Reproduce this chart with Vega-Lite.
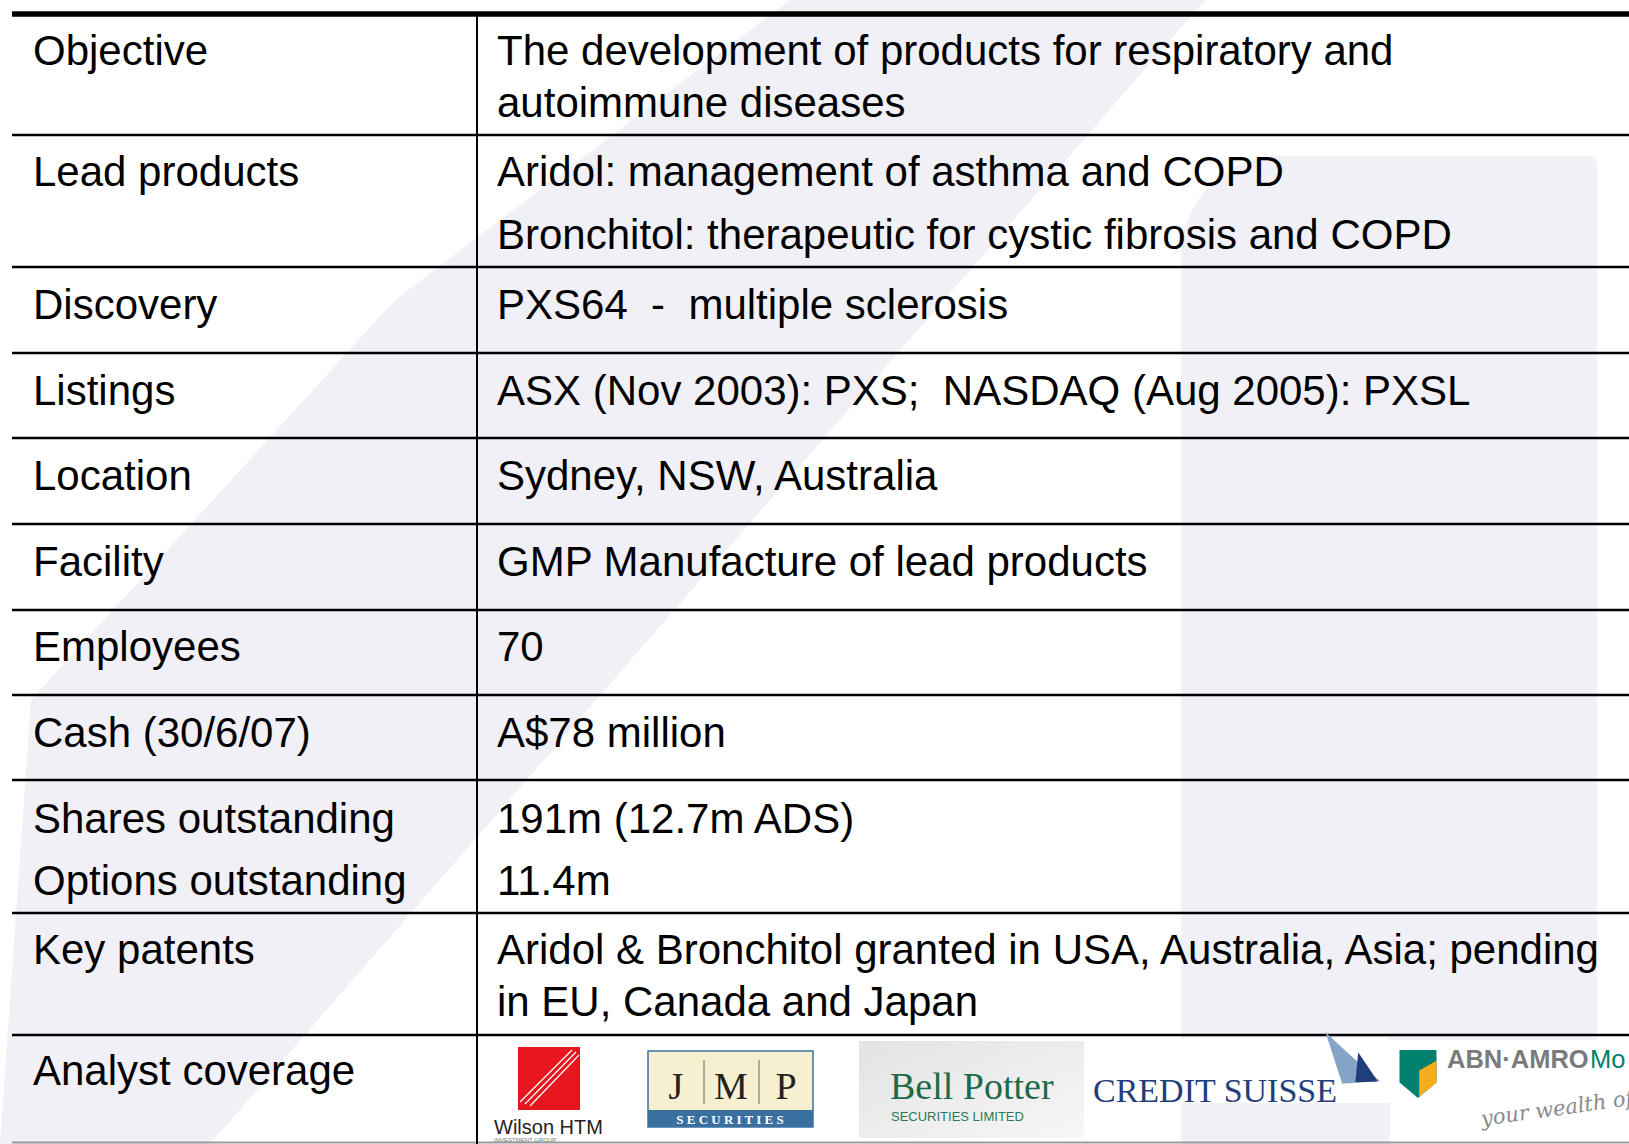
{
  "$schema": "https://vega.github.io/schema/vega-lite/v6.json",
  "width": 1629,
  "height": 1144,
  "autosize": {"type": "none"},
  "padding": 0,
  "background": "#ffffff",
  "config": {"view": {"stroke": null}, "axis": {"disable": true}, "legend": {"disable": true}},
  "datasets": {
    "band": [
      {"y": 0, "xl": 790, "xr": 1205},
      {"y": 300, "xl": 395, "xr": 944},
      {"y": 700, "xl": 31, "xr": 596},
      {"y": 1144, "xl": 0, "xr": 210}
    ],
    "cells": [
      {"col": "label", "text": "Objective", "y": 65},
      {"col": "value", "text": "The development of products for respiratory and", "y": 65},
      {"col": "value", "text": "autoimmune diseases", "y": 117},
      {"col": "label", "text": "Lead products", "y": 186},
      {"col": "value", "text": "Aridol: management of asthma and COPD", "y": 186},
      {"col": "value", "text": "Bronchitol: therapeutic for cystic fibrosis and COPD", "y": 249},
      {"col": "label", "text": "Discovery", "y": 319},
      {"col": "value", "text": "PXS64 \u00a0-\u00a0 multiple sclerosis", "y": 319},
      {"col": "label", "text": "Listings", "y": 405},
      {"col": "value", "text": "ASX (Nov 2003): PXS;\u00a0 NASDAQ (Aug 2005): PXSL", "y": 405},
      {"col": "label", "text": "Location", "y": 490},
      {"col": "value", "text": "Sydney, NSW, Australia", "y": 490},
      {"col": "label", "text": "Facility", "y": 576},
      {"col": "value", "text": "GMP Manufacture of lead products", "y": 576},
      {"col": "label", "text": "Employees", "y": 661},
      {"col": "value", "text": "70", "y": 661},
      {"col": "label", "text": "Cash (30/6/07)", "y": 747},
      {"col": "value", "text": "A$78 million", "y": 747},
      {"col": "label", "text": "Shares outstanding", "y": 833},
      {"col": "value", "text": "191m (12.7m ADS)", "y": 833},
      {"col": "label", "text": "Options outstanding", "y": 895},
      {"col": "value", "text": "11.4m", "y": 895},
      {"col": "label", "text": "Key patents", "y": 964},
      {"col": "value", "text": "Aridol & Bronchitol granted in USA, Australia, Asia; pending", "y": 964},
      {"col": "value", "text": "in EU, Canada and Japan", "y": 1016},
      {"col": "label", "text": "Analyst coverage", "y": 1085}
    ],
    "hlines": [
      {"y": 135}, {"y": 267}, {"y": 353}, {"y": 438}, {"y": 524},
      {"y": 610}, {"y": 695}, {"y": 780}, {"y": 913}, {"y": 1035}
    ],
    "boxes": [
      {"part": "white", "x": 1181, "x2": 1390, "y": 1038, "y2": 1103},
      {"part": "white", "x": 1390, "x2": 1629, "y": 1040, "y2": 1144},
      {"part": "red", "x": 518, "x2": 580, "y": 1047, "y2": 1110},
      {"part": "beige", "x": 648, "x2": 813, "y": 1051, "y2": 1111},
      {"part": "blue", "x": 648, "x2": 813, "y": 1110, "y2": 1127}
    ],
    "wlines": [
      {"x": 520, "y": 1102, "x2": 572, "y2": 1050},
      {"x": 525, "y": 1104, "x2": 576, "y2": 1052},
      {"x": 530, "y": 1106, "x2": 579, "y2": 1055}
    ],
    "jmpsep": [{"x": 704}, {"x": 759}],
    "logos": [
      {"name": "wilson", "label": "Wilson HTM", "x": 494, "y": 1134},
      {"name": "wilsonsub", "label": "INVESTMENT GROUP", "x": 494, "y": 1142},
      {"name": "jmp", "label": "J", "x": 676, "y": 1099},
      {"name": "jmp", "label": "M", "x": 731, "y": 1099},
      {"name": "jmp", "label": "P", "x": 786, "y": 1099},
      {"name": "jmpsec", "label": "S E C U R I T I E S", "x": 730, "y": 1124},
      {"name": "bell", "label": "Bell Potter", "x": 890, "y": 1099},
      {"name": "bellsub", "label": "SECURITIES LIMITED", "x": 891, "y": 1121},
      {"name": "cs", "label": "CREDIT SUISSE", "x": 1093, "y": 1102},
      {"name": "abn", "label": "ABN·AMRO", "x": 1447, "y": 1068},
      {"name": "abnmo", "label": "Mo", "x": 1590, "y": 1068},
      {"name": "abnsub", "label": "your wealth of", "x": 1482, "y": 1126},
      {"name": "sail1", "label": "", "x": 1352, "y": 1060},
      {"name": "sail2", "label": "", "x": 1354, "y": 1062},
      {"name": "shield", "label": "", "x": 1418, "y": 1074}
    ]
  },
  "layer": [
    {
      "data": {"name": "band"},
      "mark": {"type": "area", "orient": "horizontal", "color": "#f0f0f6"},
      "encoding": {
        "y": {"field": "y", "type": "quantitative", "scale": {"domain": [0, 1144], "nice": false, "zero": false, "reverse": true}, "axis": null},
        "x": {"field": "xl", "type": "quantitative", "stack": null, "scale": {"domain": [0, 1629], "nice": false, "zero": false}, "axis": null},
        "x2": {"field": "xr"}
      }
    },
    {
      "data": {"values": [{"x": 1181, "x2": 1597, "y": 156, "y2": 1144}]},
      "mark": {"type": "rect", "color": "#f0f0f6", "cornerRadiusTopLeft": 100, "cornerRadiusTopRight": 8},
      "encoding": {
        "x": {"field": "x", "type": "quantitative", "scale": {"domain": [0, 1629], "nice": false, "zero": false}, "axis": null},
        "x2": {"field": "x2"},
        "y": {"field": "y", "type": "quantitative", "scale": {"domain": [0, 1144], "nice": false, "zero": false, "reverse": true}, "axis": null},
        "y2": {"field": "y2"}
      }
    },
    {
      "data": {"name": "boxes"},
      "mark": {"type": "rect"},
      "encoding": {
        "x": {"field": "x", "type": "quantitative", "scale": {"domain": [0, 1629], "nice": false, "zero": false}, "axis": null},
        "x2": {"field": "x2"},
        "y": {"field": "y", "type": "quantitative", "scale": {"domain": [0, 1144], "nice": false, "zero": false, "reverse": true}, "axis": null},
        "y2": {"field": "y2"},
        "color": {"field": "part", "type": "nominal", "scale": {"domain": ["white", "red", "beige", "blue"], "range": ["#ffffff", "#e5161d", "#f6efd0", "#3a70a0"]}, "legend": null}
      }
    },
    {
      "data": {"values": [{"x": 648, "x2": 813, "y": 1051, "y2": 1127}]},
      "mark": {"type": "rect", "fillOpacity": 0, "stroke": "#3a70a0", "strokeWidth": 1.5},
      "encoding": {
        "x": {"field": "x", "type": "quantitative", "scale": {"domain": [0, 1629], "nice": false, "zero": false}, "axis": null},
        "x2": {"field": "x2"},
        "y": {"field": "y", "type": "quantitative", "scale": {"domain": [0, 1144], "nice": false, "zero": false, "reverse": true}, "axis": null},
        "y2": {"field": "y2"}
      }
    },
    {
      "data": {"values": [{"x": 859, "x2": 1084, "y": 1041, "y2": 1138}]},
      "mark": {"type": "rect", "fill": {"gradient": "linear", "x1": 0, "y1": 0, "x2": 1, "y2": 1, "stops": [{"offset": 0, "color": "#e3e3e3"}, {"offset": 1, "color": "#f7f7f7"}]}},
      "encoding": {
        "x": {"field": "x", "type": "quantitative", "scale": {"domain": [0, 1629], "nice": false, "zero": false}, "axis": null},
        "x2": {"field": "x2"},
        "y": {"field": "y", "type": "quantitative", "scale": {"domain": [0, 1144], "nice": false, "zero": false, "reverse": true}, "axis": null},
        "y2": {"field": "y2"}
      }
    },
    {
      "data": {"name": "wlines"},
      "mark": {"type": "rule", "color": "#ffffff", "strokeWidth": 1.2},
      "encoding": {
        "x": {"field": "x", "type": "quantitative", "scale": {"domain": [0, 1629], "nice": false, "zero": false}, "axis": null},
        "x2": {"field": "x2"},
        "y": {"field": "y", "type": "quantitative", "scale": {"domain": [0, 1144], "nice": false, "zero": false, "reverse": true}, "axis": null},
        "y2": {"field": "y2"}
      }
    },
    {
      "data": {"name": "jmpsep"},
      "mark": {"type": "rule", "color": "#666666", "strokeWidth": 1},
      "encoding": {
        "x": {"field": "x", "type": "quantitative", "scale": {"domain": [0, 1629], "nice": false, "zero": false}, "axis": null},
        "y": {"datum": 1060, "type": "quantitative", "scale": {"domain": [0, 1144], "nice": false, "zero": false, "reverse": true}, "axis": null},
        "y2": {"datum": 1104}
      }
    },
    {
      "data": {"name": "hlines"},
      "mark": {"type": "rule", "color": "#000000", "strokeWidth": 2.5},
      "encoding": {
        "x": {"datum": 12, "type": "quantitative", "scale": {"domain": [0, 1629], "nice": false, "zero": false}, "axis": null},
        "x2": {"datum": 1629},
        "y": {"field": "y", "type": "quantitative", "scale": {"domain": [0, 1144], "nice": false, "zero": false, "reverse": true}, "axis": null}
      }
    },
    {
      "data": {"values": [{"y": 14}]},
      "mark": {"type": "rule", "color": "#000000", "strokeWidth": 5.5},
      "encoding": {
        "x": {"datum": 12, "type": "quantitative", "scale": {"domain": [0, 1629], "nice": false, "zero": false}, "axis": null},
        "x2": {"datum": 1629},
        "y": {"field": "y", "type": "quantitative", "scale": {"domain": [0, 1144], "nice": false, "zero": false, "reverse": true}, "axis": null}
      }
    },
    {
      "data": {"values": [{"y": 1142.5}]},
      "mark": {"type": "rule", "color": "#9a9a9a", "strokeWidth": 2},
      "encoding": {
        "x": {"datum": 12, "type": "quantitative", "scale": {"domain": [0, 1629], "nice": false, "zero": false}, "axis": null},
        "x2": {"datum": 1629},
        "y": {"field": "y", "type": "quantitative", "scale": {"domain": [0, 1144], "nice": false, "zero": false, "reverse": true}, "axis": null}
      }
    },
    {
      "data": {"values": [{"x": 477}]},
      "mark": {"type": "rule", "color": "#000000", "strokeWidth": 2},
      "encoding": {
        "x": {"field": "x", "type": "quantitative", "scale": {"domain": [0, 1629], "nice": false, "zero": false}, "axis": null},
        "y": {"datum": 16, "type": "quantitative", "scale": {"domain": [0, 1144], "nice": false, "zero": false, "reverse": true}, "axis": null},
        "y2": {"datum": 1144}
      }
    },
    {
      "data": {"name": "cells"},
      "transform": [{"filter": "datum.col === 'label'"}],
      "mark": {"type": "text", "font": "Liberation Sans", "fontSize": 42, "align": "left", "baseline": "alphabetic", "color": "#000000"},
      "encoding": {
        "x": {"datum": 33, "type": "quantitative", "scale": {"domain": [0, 1629], "nice": false, "zero": false}, "axis": null},
        "y": {"field": "y", "type": "quantitative", "scale": {"domain": [0, 1144], "nice": false, "zero": false, "reverse": true}, "axis": null},
        "text": {"field": "text"}
      }
    },
    {
      "data": {"name": "cells"},
      "transform": [{"filter": "datum.col === 'value'"}],
      "mark": {"type": "text", "font": "Liberation Sans", "fontSize": 42, "align": "left", "baseline": "alphabetic", "color": "#000000"},
      "encoding": {
        "x": {"datum": 497, "type": "quantitative", "scale": {"domain": [0, 1629], "nice": false, "zero": false}, "axis": null},
        "y": {"field": "y", "type": "quantitative", "scale": {"domain": [0, 1144], "nice": false, "zero": false, "reverse": true}, "axis": null},
        "text": {"field": "text"}
      }
    },
    {
      "data": {"name": "logos"},
      "transform": [{"filter": "datum.name === 'wilson'"}],
      "mark": {"type": "text", "font": "Liberation Sans", "fontSize": 20, "align": "left", "baseline": "alphabetic", "color": "#222222"},
      "encoding": {
        "x": {"field": "x", "type": "quantitative", "scale": {"domain": [0, 1629], "nice": false, "zero": false}, "axis": null},
        "y": {"field": "y", "type": "quantitative", "scale": {"domain": [0, 1144], "nice": false, "zero": false, "reverse": true}, "axis": null},
        "text": {"field": "label"}
      }
    },
    {
      "data": {"name": "logos"},
      "transform": [{"filter": "datum.name === 'wilsonsub'"}],
      "mark": {"type": "text", "font": "Liberation Sans", "fontSize": 6, "align": "left", "baseline": "alphabetic", "color": "#777777"},
      "encoding": {
        "x": {"field": "x", "type": "quantitative", "scale": {"domain": [0, 1629], "nice": false, "zero": false}, "axis": null},
        "y": {"field": "y", "type": "quantitative", "scale": {"domain": [0, 1144], "nice": false, "zero": false, "reverse": true}, "axis": null},
        "text": {"field": "label"}
      }
    },
    {
      "data": {"name": "logos"},
      "transform": [{"filter": "datum.name === 'jmp'"}],
      "mark": {"type": "text", "font": "Liberation Serif", "fontSize": 38, "align": "center", "baseline": "alphabetic", "color": "#222222"},
      "encoding": {
        "x": {"field": "x", "type": "quantitative", "scale": {"domain": [0, 1629], "nice": false, "zero": false}, "axis": null},
        "y": {"field": "y", "type": "quantitative", "scale": {"domain": [0, 1144], "nice": false, "zero": false, "reverse": true}, "axis": null},
        "text": {"field": "label"}
      }
    },
    {
      "data": {"name": "logos"},
      "transform": [{"filter": "datum.name === 'jmpsec'"}],
      "mark": {"type": "text", "font": "Liberation Serif", "fontSize": 13, "fontWeight": "bold", "align": "center", "baseline": "alphabetic", "color": "#ffffff"},
      "encoding": {
        "x": {"field": "x", "type": "quantitative", "scale": {"domain": [0, 1629], "nice": false, "zero": false}, "axis": null},
        "y": {"field": "y", "type": "quantitative", "scale": {"domain": [0, 1144], "nice": false, "zero": false, "reverse": true}, "axis": null},
        "text": {"field": "label"}
      }
    },
    {
      "data": {"name": "logos"},
      "transform": [{"filter": "datum.name === 'bell'"}],
      "mark": {"type": "text", "font": "Liberation Serif", "fontSize": 38, "align": "left", "baseline": "alphabetic", "color": "#1d6a47"},
      "encoding": {
        "x": {"field": "x", "type": "quantitative", "scale": {"domain": [0, 1629], "nice": false, "zero": false}, "axis": null},
        "y": {"field": "y", "type": "quantitative", "scale": {"domain": [0, 1144], "nice": false, "zero": false, "reverse": true}, "axis": null},
        "text": {"field": "label"}
      }
    },
    {
      "data": {"name": "logos"},
      "transform": [{"filter": "datum.name === 'bellsub'"}],
      "mark": {"type": "text", "font": "Liberation Sans", "fontSize": 13, "align": "left", "baseline": "alphabetic", "color": "#2b7a55"},
      "encoding": {
        "x": {"field": "x", "type": "quantitative", "scale": {"domain": [0, 1629], "nice": false, "zero": false}, "axis": null},
        "y": {"field": "y", "type": "quantitative", "scale": {"domain": [0, 1144], "nice": false, "zero": false, "reverse": true}, "axis": null},
        "text": {"field": "label"}
      }
    },
    {
      "data": {"name": "logos"},
      "transform": [{"filter": "datum.name === 'cs'"}],
      "mark": {"type": "text", "font": "Liberation Serif", "fontSize": 34, "align": "left", "baseline": "alphabetic", "color": "#1f3e7b"},
      "encoding": {
        "x": {"field": "x", "type": "quantitative", "scale": {"domain": [0, 1629], "nice": false, "zero": false}, "axis": null},
        "y": {"field": "y", "type": "quantitative", "scale": {"domain": [0, 1144], "nice": false, "zero": false, "reverse": true}, "axis": null},
        "text": {"field": "label"}
      }
    },
    {
      "data": {"name": "logos"},
      "transform": [{"filter": "datum.name === 'sail1'"}],
      "mark": {"type": "point", "filled": true, "opacity": 1, "color": "#86a5c6", "size": 3136, "shape": "M-0.95,-1 Q0.1,0 1,0.75 L-0.35,0.85 Z"},
      "encoding": {
        "x": {"field": "x", "type": "quantitative", "scale": {"domain": [0, 1629], "nice": false, "zero": false}, "axis": null},
        "y": {"field": "y", "type": "quantitative", "scale": {"domain": [0, 1144], "nice": false, "zero": false, "reverse": true}, "axis": null}
      }
    },
    {
      "data": {"name": "logos"},
      "transform": [{"filter": "datum.name === 'sail2'"}],
      "mark": {"type": "point", "filled": true, "opacity": 1, "color": "#1f3e7b", "size": 3136, "shape": "M0.15,-0.35 L0.85,0.7 L0.05,0.72 Z"},
      "encoding": {
        "x": {"field": "x", "type": "quantitative", "scale": {"domain": [0, 1629], "nice": false, "zero": false}, "axis": null},
        "y": {"field": "y", "type": "quantitative", "scale": {"domain": [0, 1144], "nice": false, "zero": false, "reverse": true}, "axis": null}
      }
    },
    {
      "data": {"name": "logos"},
      "transform": [{"filter": "datum.name === 'shield'"}],
      "mark": {"type": "point", "filled": true, "opacity": 1, "color": "#00806d", "size": 2304, "shape": "M-0.77,-1 L0.77,-1 L0.77,0.35 L0,1 L-0.77,0.35 Z"},
      "encoding": {
        "x": {"field": "x", "type": "quantitative", "scale": {"domain": [0, 1629], "nice": false, "zero": false}, "axis": null},
        "y": {"field": "y", "type": "quantitative", "scale": {"domain": [0, 1144], "nice": false, "zero": false, "reverse": true}, "axis": null}
      }
    },
    {
      "data": {"name": "logos"},
      "transform": [{"filter": "datum.name === 'shield'"}],
      "mark": {"type": "point", "filled": true, "opacity": 1, "color": "#f5ad1c", "size": 2304, "shape": "M0.05,-0.15 L0.77,-0.55 L0.77,0.35 L0.05,0.95 Z"},
      "encoding": {
        "x": {"field": "x", "type": "quantitative", "scale": {"domain": [0, 1629], "nice": false, "zero": false}, "axis": null},
        "y": {"field": "y", "type": "quantitative", "scale": {"domain": [0, 1144], "nice": false, "zero": false, "reverse": true}, "axis": null}
      }
    },
    {
      "data": {"name": "logos"},
      "transform": [{"filter": "datum.name === 'abn'"}],
      "mark": {"type": "text", "font": "Liberation Sans", "fontSize": 25.5, "fontWeight": "bold", "align": "left", "baseline": "alphabetic", "color": "#7b7b7b"},
      "encoding": {
        "x": {"field": "x", "type": "quantitative", "scale": {"domain": [0, 1629], "nice": false, "zero": false}, "axis": null},
        "y": {"field": "y", "type": "quantitative", "scale": {"domain": [0, 1144], "nice": false, "zero": false, "reverse": true}, "axis": null},
        "text": {"field": "label"}
      }
    },
    {
      "data": {"name": "logos"},
      "transform": [{"filter": "datum.name === 'abnmo'"}],
      "mark": {"type": "text", "font": "Liberation Sans", "fontSize": 25.5, "align": "left", "baseline": "alphabetic", "color": "#00806d"},
      "encoding": {
        "x": {"field": "x", "type": "quantitative", "scale": {"domain": [0, 1629], "nice": false, "zero": false}, "axis": null},
        "y": {"field": "y", "type": "quantitative", "scale": {"domain": [0, 1144], "nice": false, "zero": false, "reverse": true}, "axis": null},
        "text": {"field": "label"}
      }
    },
    {
      "data": {"name": "logos"},
      "transform": [{"filter": "datum.name === 'abnsub'"}],
      "mark": {"type": "text", "font": "DejaVu Serif", "fontSize": 21, "fontStyle": "italic", "angle": -8, "align": "left", "baseline": "alphabetic", "color": "#8a8a8a"},
      "encoding": {
        "x": {"field": "x", "type": "quantitative", "scale": {"domain": [0, 1629], "nice": false, "zero": false}, "axis": null},
        "y": {"field": "y", "type": "quantitative", "scale": {"domain": [0, 1144], "nice": false, "zero": false, "reverse": true}, "axis": null},
        "text": {"field": "label"}
      }
    }
  ]
}
